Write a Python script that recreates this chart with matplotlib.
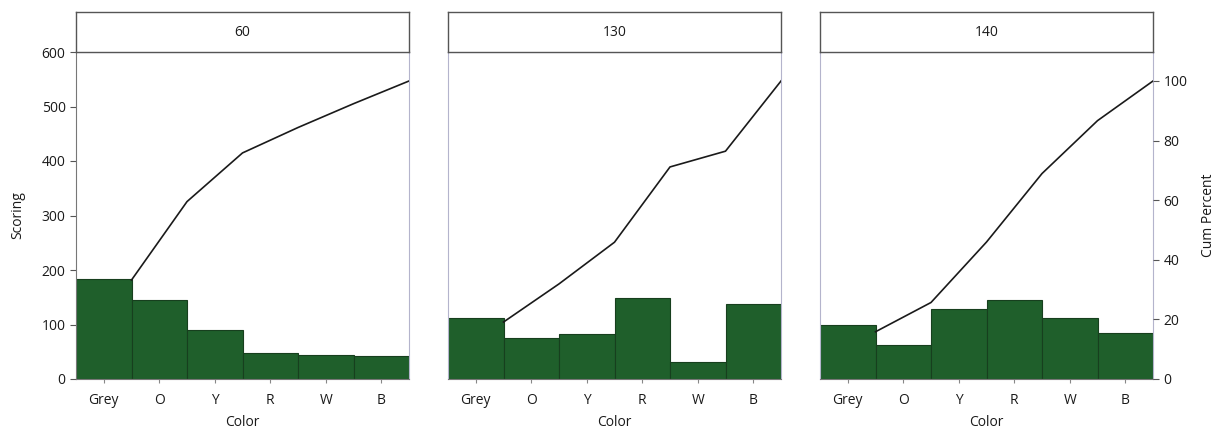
import numpy as np
import matplotlib.pyplot as plt

plt.rcParams['font.family'] = ['Open Sans', 'DejaVu Sans']

# Scoring by color, one panel per group
colors = ['Grey', 'O', 'Y', 'R', 'W', 'B']
groups = ['60', '130', '140']
scoring_60 = [183, 145, 90, 47, 44, 42]
scoring_130 = [112, 75, 82, 148, 31, 138]
scoring_140 = [100, 62, 128, 145, 112, 84]
scoring = [scoring_60, scoring_130, scoring_140]

bar_color = '#1f5f2b'
frame_color = '#b4b4cc'
text_color = '#1a1a1a'
fs = 10

fig = plt.figure(figsize=(12.16, 4.33), dpi=100)
W, H = 1216, 433
lefts = [76, 448, 820]
panel_w = 333
plot_top, plot_bottom = 52, 379
strip_top = 12

for i, (name, values) in enumerate(zip(groups, scoring)):
    values = np.array(values, dtype=float)
    x = np.arange(len(colors))

    ax = fig.add_axes([lefts[i] / W, (H - plot_bottom) / H,
                       panel_w / W, (plot_bottom - plot_top) / H])
    ax.bar(x, values, width=1.0, color=bar_color, edgecolor='#173f1e', linewidth=0.8)
    ax.set_xlim(-0.5, len(colors) - 0.5)
    ax.set_ylim(0, 600)
    ax.set_xticks(x)
    ax.set_xticklabels(colors, fontsize=fs, color=text_color)
    ax.set_xlabel('Color', fontsize=fs, color=text_color, labelpad=5)
    ax.tick_params(axis='x', length=3, color='#888888', pad=7)
    for side in ax.spines.values():
        side.set_color(frame_color)
        side.set_linewidth(0.8)
    ax.spines['bottom'].set_color('#777777')

    if i == 0:
        ax.set_yticks(range(0, 601, 100))
        ax.tick_params(axis='y', labelsize=fs, labelcolor=text_color,
                       length=4, color='#555555')
        ax.set_ylabel('Scoring', fontsize=fs, color=text_color, labelpad=12)
        ax.spines['left'].set_color('#777777')
    else:
        ax.set_yticks([])

    # cumulative percent, plotted at the right edge of each bar
    cum_pct = np.cumsum(values) / values.sum() * 100
    ax2 = ax.twinx()
    ax2.plot(x + 0.5, cum_pct, color='#1a1a1a', linewidth=1.2)
    ax2.set_ylim(0, 100 * (plot_bottom - plot_top) / (plot_bottom - 81))
    for side in ax2.spines.values():
        side.set_visible(False)
    if i == 2:
        ax2.set_yticks(range(0, 101, 20))
        ax2.tick_params(axis='y', labelsize=fs, labelcolor=text_color,
                        length=4, color='#555555')
        ax2.set_ylabel('Cum Percent', fontsize=fs, color=text_color, labelpad=10)
    else:
        ax2.set_yticks([])

    # header strip with the group name
    strip = fig.add_axes([lefts[i] / W, (H - plot_top) / H,
                          panel_w / W, (plot_top - strip_top) / H])
    strip.set_xticks([])
    strip.set_yticks([])
    for side in strip.spines.values():
        side.set_color('#555555')
        side.set_linewidth(1.0)
    strip.text(0.5, 0.5, name, ha='center', va='center',
               fontsize=fs, color=text_color, transform=strip.transAxes)

fig.savefig('out.png', dpi=100)
